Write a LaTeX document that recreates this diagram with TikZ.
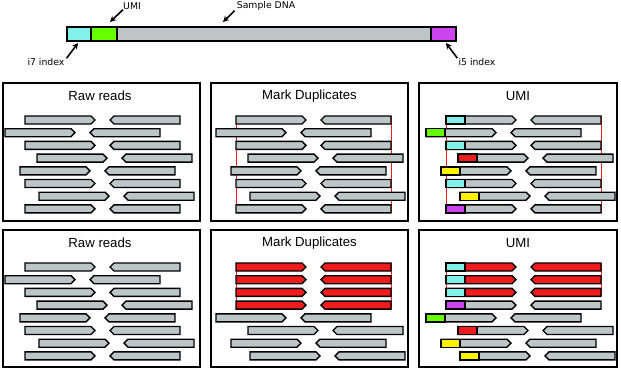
\documentclass[tikz,border=0pt]{standalone}
\usepackage{fontspec}
\setmainfont{Liberation Sans}
\newfontfamily\lblfont{DejaVu Sans}
\usetikzlibrary{arrows.meta}
\definecolor{rgray}{HTML}{BCC6C6}
\definecolor{rred}{HTML}{EE1C1C}
\definecolor{ucyan}{HTML}{80F2EA}
\definecolor{ugreen}{HTML}{66FF00}
\definecolor{upurple}{HTML}{CC44EE}
\definecolor{uyellow}{HTML}{FFF200}
\def\nonestr{none}
\newcommand\fwdread[4]{%
  \filldraw[readline, fill=#3] ({#1},{#2-4}) -- ({#1+66},{#2-4}) -- ({#1+70},{#2}) -- ({#1+66},{#2+4}) -- ({#1},{#2+4}) -- cycle;
  \edef\tmpu{#4}%
  \ifx\tmpu\nonestr\else
    \filldraw[readline, fill=#4] ({#1},{#2-4}) rectangle ({#1+19},{#2+4});
  \fi}
\newcommand\revread[3]{%
  \filldraw[readline, fill=#3] ({#1},{#2}) -- ({#1+4},{#2-4}) -- ({#1+70},{#2-4}) -- ({#1+70},{#2+4}) -- ({#1+4},{#2+4}) -- cycle;}
\newcommand\panelreads[3]{%
  \foreach \o/\ff/\u [count=\i from 0] in {#3} {%
    \pgfmathsetmacro\yy{#2+\i*12.7}%
    \pgfmathsetmacro\xa{#1+(\o)}%
    \pgfmathsetmacro\xb{#1+(\o)+85}%
    \fwdread{\xa}{\yy}{\ff}{\u}%
    \revread{\xb}{\yy}{\ff}%
  }}
\begin{document}
\begin{tikzpicture}[x=1pt,y=-1pt,
  readline/.style={draw=black, line width=1.4pt, line join=miter},
  panel/.style={draw=black, line width=1.7pt, fill=white},
  bar/.style={draw=black, line width=1.4pt, minimum height=14pt, inner sep=0pt, outer sep=0pt},
  lbl/.style={font=\lblfont\fontsize{9.3}{10}\selectfont, inner sep=0pt},
  ttl/.style={font=\fontsize{13.2}{15}\selectfont, inner sep=0pt},
  arr/.style={-{Stealth[length=6pt,width=6pt]}, line width=1.6pt},
  dupline/.style={draw=rred, line width=1pt}]
\useasboundingbox (0,0) rectangle (621,369);
\fill[white] (0,0) rectangle (621,369);
% top bar
\node[bar, fill=ucyan, minimum width=24pt] (i7) at (79,34) {};
\node[bar, fill=ugreen, minimum width=26pt] (umi) at (104,34) {};
\node[bar, fill=rgray, minimum width=314pt] (dna) at (274,34) {};
\node[bar, fill=upurple, minimum width=25pt] (i5) at (443.5,34) {};
\node[lbl] (umil) at (132,6) {UMI};
\node[lbl] (dnal) at (266,6) {Sample DNA};
\node[lbl] (i7l) at (46,62) {i7 index};
\node[lbl] (i5l) at (477,62) {i5 index};
\coordinate (umitip) at (110,22);
\coordinate (dnatip) at (223,22);
\coordinate (i7tip) at (78,43);
\coordinate (i5tip) at (446,43);
\draw[arr] (umil.south west) -- (umitip);
\draw[arr] ([xshift=-2pt]dnal.south west) -- (dnatip);
\draw[arr] ([xshift=2pt]i7l.north east) -- (i7tip);
\draw[arr] ([xshift=-1pt]i5l.north west) -- (i5tip);
% panels
\draw[panel] (3,83) rectangle (200,221);
\draw[panel] (211,83) rectangle (408,221);
\draw[panel] (419,83) rectangle (617,221);
\draw[panel] (3,230) rectangle (200,367);
\draw[panel] (211,230) rectangle (408,367);
\draw[panel] (419,230) rectangle (617,367);
\node[ttl] (t1) at (100,96) {Raw reads};
\node[ttl] (t2) at (309.5,96) {Mark Duplicates};
\node[ttl] (t3) at (518,96) {UMI};
\node[ttl] (t4) at (100,243) {Raw reads};
\node[ttl] (t5) at (309.5,243) {Mark Duplicates};
\node[ttl] (t6) at (518,243) {UMI};
% red duplicate lines
\draw[dupline] (236,116) -- (236,213) (391,116) -- (391,213);
\draw[dupline] (446,116) -- (446,213) (601,116) -- (601,213);
\draw[dupline] (236,263) -- (236,309) (391,263) -- (391,309);
\draw[dupline] (446,263) -- (446,296) (601,263) -- (601,296);
% reads
\panelreads{25}{120}{0/rgray/none,-20/rgray/none,0/rgray/none,12/rgray/none,-5/rgray/none,0/rgray/none,14/rgray/none,0/rgray/none}
\panelreads{236}{120}{0/rgray/none,-20/rgray/none,0/rgray/none,12/rgray/none,-5/rgray/none,0/rgray/none,14/rgray/none,0/rgray/none}
\panelreads{446}{120}{0/rgray/ucyan,-20/rgray/ugreen,0/rgray/ucyan,12/rgray/rred,-5/rgray/uyellow,0/rgray/ucyan,14/rgray/uyellow,0/rgray/upurple}
\panelreads{25}{267}{0/rgray/none,-20/rgray/none,0/rgray/none,12/rgray/none,-5/rgray/none,0/rgray/none,14/rgray/none,0/rgray/none}
\panelreads{236}{267}{0/rred/none,0/rred/none,0/rred/none,0/rred/none,-20/rgray/none,12/rgray/none,-5/rgray/none,14/rgray/none}
\panelreads{446}{267}{0/rred/ucyan,0/rred/ucyan,0/rred/ucyan,0/rgray/upurple,-20/rgray/ugreen,12/rgray/rred,-5/rgray/uyellow,14/rgray/uyellow}
\end{tikzpicture}
\end{document}
